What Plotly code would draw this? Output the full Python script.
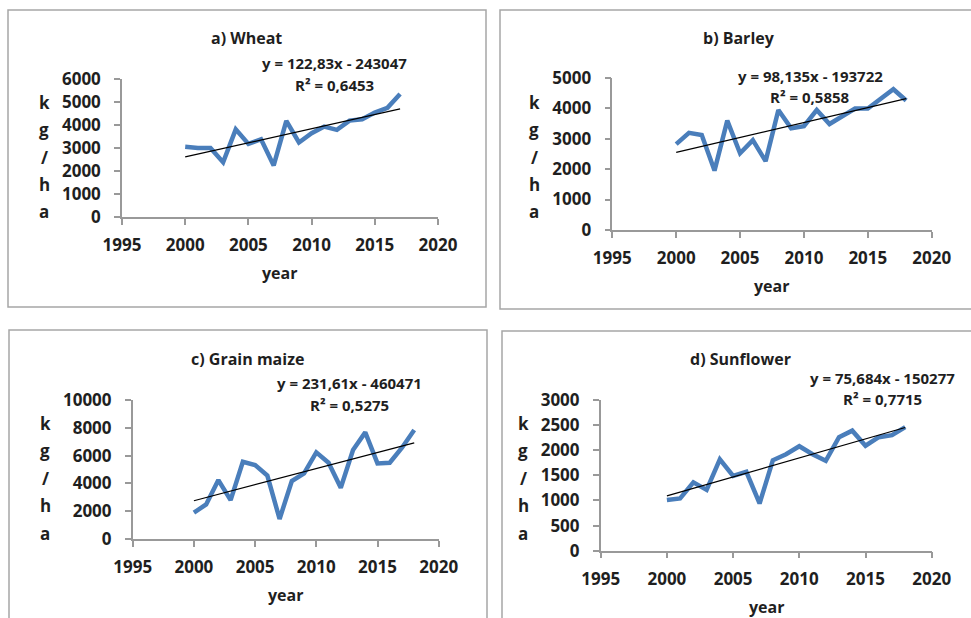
import plotly.graph_objects as go

years_a = list(range(2000, 2018))
wheat = [3050, 3000, 3000, 2380, 3810, 3180, 3380, 2240, 4180, 3240, 3640, 3930, 3790, 4190, 4250, 4540, 4750, 5350]

years_b = list(range(2000, 2019))
barley = [2820, 3190, 3120, 1950, 3590, 2520, 2950, 2260, 3940, 3340, 3410, 3940, 3480, 3720, 3990, 3990, 4320, 4620, 4250]

years_c = list(range(2000, 2019))
maize = [1890, 2490, 4240, 2800, 5560, 5320, 4560, 1440, 4170, 4720, 6230, 5490, 3690, 6400, 7670, 5440, 5490, 6570, 7840]

years_d = list(range(2000, 2019))
sunflower = [1010, 1040, 1360, 1210, 1820, 1490, 1570, 940, 1800, 1920, 2080, 1920, 1790, 2260, 2390, 2090, 2260, 2300, 2460]

titles = ["a) Wheat", "b) Barley", "c) Grain maize", "d) Sunflower"]
slopes = [122.83, 98.135, 231.61, 75.684]
intercepts = [-243047, -193722, -460471, -150277]
eq_texts = ["y = 122,83x - 243047", "y = 98,135x - 193722", "y = 231,61x - 460471", "y = 75,684x - 150277"]
r2_texts = ["R² = 0,6453", "R² = 0,5858", "R² = 0,5275", "R² = 0,7715"]
y_max = [6000, 5000, 10000, 3000]
y_dtick = [1000, 1000, 2000, 500]
x_ticks = [1995, 2000, 2005, 2010, 2015, 2020]

W, H = 971, 618
def px(x):
    return x / W
def py(y):
    return 1 - y / H

# layout geometry in pixels
panels = [
    dict(xd=(122, 438), yd=(217, 79), box=(8, 10, 486, 307), title=(246, 38), eq=(334, 63), r2=(334, 85),
         lab_x=44, lab_y=(102, 212), year=(279, 273)),
    dict(xd=(612.3, 931.7), yd=(230, 77.7), box=(500, 10, 975, 309), title=(739, 38), eq=(810, 76), r2=(810, 97),
         lab_x=534, lab_y=(102, 212), year=(771, 286)),
    dict(xd=(132.7, 438.7), yd=(539, 400), box=(9, 330, 487, 625), title=(247, 359), eq=(349, 383), r2=(349, 405),
         lab_x=45, lab_y=(423, 533), year=(285, 595)),
    dict(xd=(600.7, 931.7), yd=(550.7, 400), box=(502, 331, 975, 625), title=(740, 359), eq=(882, 378), r2=(882, 399),
         lab_x=523, lab_y=(423, 533), year=(766, 607)),
]

data_x = [years_a, years_b, years_c, years_d]
data_y = [wheat, barley, maize, sunflower]

fig = go.Figure()
annotations = []
shapes = []
blue = "#4A7EBB"
axis_col = "#999999"
txt_col = "#1F1F1F"
fam = "Open Sans"

for i, p in enumerate(panels):
    xa = "x" if i == 0 else f"x{i+1}"
    ya = "y" if i == 0 else f"y{i+1}"
    xs, ys = data_x[i], data_y[i]
    fig.add_trace(go.Scatter(x=xs, y=ys, mode="lines", line=dict(color=blue, width=4.5),
                             xaxis=xa, yaxis=ya, showlegend=False, hoverinfo="x+y"))
    tx = [xs[0], xs[-1]]
    ty = [slopes[i] * t + intercepts[i] for t in tx]
    fig.add_trace(go.Scatter(x=tx, y=ty, mode="lines", line=dict(color="black", width=1.2),
                             xaxis=xa, yaxis=ya, showlegend=False, hoverinfo="skip"))
    xkey = "xaxis" if i == 0 else f"xaxis{i+1}"
    ykey = "yaxis" if i == 0 else f"yaxis{i+1}"
    fig.layout[xkey] = dict(domain=[px(p["xd"][0]), px(p["xd"][1])], range=[1995, 2020],
                            tickvals=x_ticks, showline=True, linecolor=axis_col, linewidth=1.5,
                            ticks="outside", tickcolor=axis_col, ticklen=6, tickwidth=1.5,
                            showgrid=False, zeroline=False, anchor=ya, automargin=False,
                            tickfont=dict(family=fam, size=17, color=txt_col, weight="bold"),
                            ticklabelstandoff=6)
    fig.layout[ykey] = dict(domain=[py(p["yd"][0]), py(p["yd"][1])], range=[0, y_max[i]],
                            dtick=y_dtick[i], showline=True, linecolor=axis_col, linewidth=1.5,
                            ticks="outside", tickcolor=axis_col, ticklen=6, tickwidth=1.5,
                            showgrid=False, zeroline=False, anchor=xa, automargin=False,
                            tickformat="d",
                            tickfont=dict(family=fam, size=17, color=txt_col, weight="bold"),
                            ticklabelstandoff=10)
    bx0, by0, bx1, by1 = p["box"]
    shapes.append(dict(type="rect", xref="paper", yref="paper", x0=px(bx0), x1=px(bx1), y0=py(by1), y1=py(by0),
                       line=dict(color="#A6A6A6", width=1.5)))
    def ann(text, x, y, size):
        annotations.append(dict(text=f"<b>{text}</b>", xref="paper", yref="paper", x=px(x), y=py(y),
                                xanchor="center", yanchor="middle", showarrow=False,
                                font=dict(family=fam, size=size, color=txt_col)))
    ann(titles[i], p["title"][0], p["title"][1], 16)
    ann(eq_texts[i], p["eq"][0], p["eq"][1], 15)
    ann(r2_texts[i], p["r2"][0], p["r2"][1], 15)
    ann("year", p["year"][0], p["year"][1], 16)
    letters = ["k", "g", "/", "h", "a"]
    y0, y1 = p["lab_y"]
    for j, L in enumerate(letters):
        ann(L, p["lab_x"], y0 + (y1 - y0) * j / 4, 17)

fig.update_layout(width=W, height=H, margin=dict(l=0, r=0, t=0, b=0, autoexpand=False),
                  paper_bgcolor="white", plot_bgcolor="white",
                  annotations=annotations, shapes=shapes)

fig.write_html("out.html", config={"displayModeBar": False},
               post_script="document.body.style.margin='0';document.body.style.overflow='hidden';")
